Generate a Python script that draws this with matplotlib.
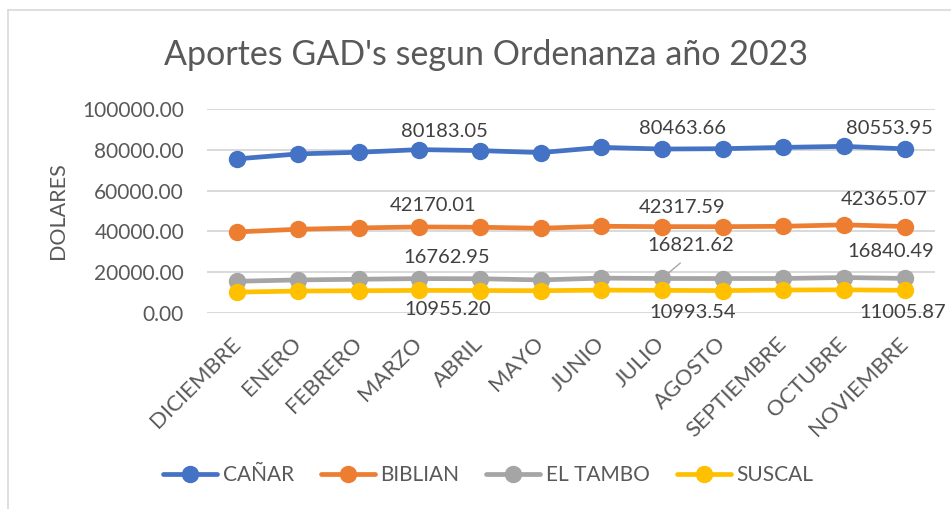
import matplotlib
matplotlib.use('Agg')
import matplotlib.pyplot as plt
from matplotlib.lines import Line2D

months = ['DICIEMBRE', 'ENERO', 'FEBRERO', 'MARZO', 'ABRIL', 'MAYO', 'JUNIO',
          'JULIO', 'AGOSTO', 'SEPTIEMBRE', 'OCTUBRE', 'NOVIEMBRE']
canar = [75630, 78070, 78880, 80183.05, 79700, 78720, 81280, 80463.66, 80630, 81280, 81780, 80553.95]
biblian = [39730, 41030, 41680, 42170.01, 42010, 41520, 42480, 42317.59, 42300, 42480, 43200, 42365.07]
el_tambo = [15460, 16110, 16440, 16762.95, 16700, 16110, 17000, 16821.62, 16800, 16820, 17300, 16840.49]
suscal = [10140, 10630, 10790, 10955.20, 10900, 10800, 11100, 10993.54, 10850, 11150, 11250, 11005.87]
series_names = ['CAÑAR', 'BIBLIAN', 'EL TAMBO', 'SUSCAL']
y_ticks = [0, 20000, 40000, 60000, 80000, 100000]
labeled_idx = [3, 7, 11]

colors = ['#4472C4', '#ED7D31', '#A5A5A5', '#FFC000']
# label offsets in pixels (dx, dy) for each series at labeled points
offsets = [
    [(25, 18), (21, 21), (-15, 20)],
    [(14, 21), (20, 19), (-20, 27)],
    [(27, 21), (29, 33), (-14, 27)],
    [(28, -19), (31, -22), (-2, -22)],
]

plt.rcParams['font.family'] = ['Lato', 'DejaVu Sans']
TXT = '#595959'
W, H = 951, 509
fig = plt.figure(figsize=(W / 100, H / 100), dpi=100)
fig.patch.set_facecolor('white')

# chart-area border (left & top visible)
fig.add_artist(Line2D([8 / W, 8 / W], [0, 1 - 10 / H], transform=fig.transFigure, color='#D9D9D9', lw=1.2))
fig.add_artist(Line2D([8 / W, 1], [1 - 10 / H, 1 - 10 / H], transform=fig.transFigure, color='#D9D9D9', lw=1.2))

ax = fig.add_axes([207 / W, 1 - 312.7 / H, (935 - 207) / W, (312.7 - 109.3) / H])
x = list(range(len(months)))
all_series = [canar, biblian, el_tambo, suscal]
for name, vals, c, z in zip(series_names, all_series, colors, [5, 4, 3, 6]):
    ax.plot(x, vals, color=c, lw=3.4, marker='o', ms=11.5, label=name,
            solid_capstyle='round', solid_joinstyle='round', zorder=z)

for si, vals in enumerate(all_series):
    for k, idx in enumerate(labeled_idx):
        dx, dy = offsets[si][k]
        kw = {}
        if si == 2 and idx == 7:
            kw['arrowprops'] = dict(arrowstyle='-', color='#A5A5A5', lw=1,
                                    relpos=(0.5, 0.0), shrinkA=7, shrinkB=6)
        ax.annotate(f'{vals[idx]:.2f}', xy=(idx, vals[idx]), xytext=(dx, dy),
                    textcoords='offset pixels', ha='center', va='center',
                    fontsize=14.5, color='#404040', zorder=10, **kw)

ax.set_xlim(-0.5, len(months) - 0.5)
ax.set_ylim(0, 100000)
ax.set_yticks(y_ticks)
ax.set_yticklabels([f'{v:.2f}' for v in y_ticks])
ax.grid(axis='y', color='#D9D9D9', lw=1.4)
ax.set_axisbelow(True)
for sp in ax.spines.values():
    sp.set_visible(False)
ax.tick_params(axis='y', length=0, pad=16.5, labelsize=15, labelcolor=TXT)
ax.set_xticks(x)
ax.set_xticklabels(months, rotation=45, ha='right', va='center', rotation_mode='anchor')
ax.tick_params(axis='x', length=0, pad=20, labelsize=16, labelcolor=TXT)

fig.text(486 / W, 1 - 55 / H, "Aportes GAD's segun Ordenanza año 2023", ha='center', va='center',
         fontsize=24.5, color=TXT)
fig.text(58 / W, 1 - 211 / H, 'DOLARES', rotation=90, ha='center', va='center', fontsize=15.5, color=TXT)

fig.legend(*ax.get_legend_handles_labels(), loc='center', bbox_to_anchor=(488 / W, 1 - 475 / H),
           ncol=4, frameon=False, fontsize=15, labelcolor=TXT, handlelength=2.6,
           handletextpad=0.25, columnspacing=1.3)

fig.savefig('out.png', dpi=100, facecolor='white')
